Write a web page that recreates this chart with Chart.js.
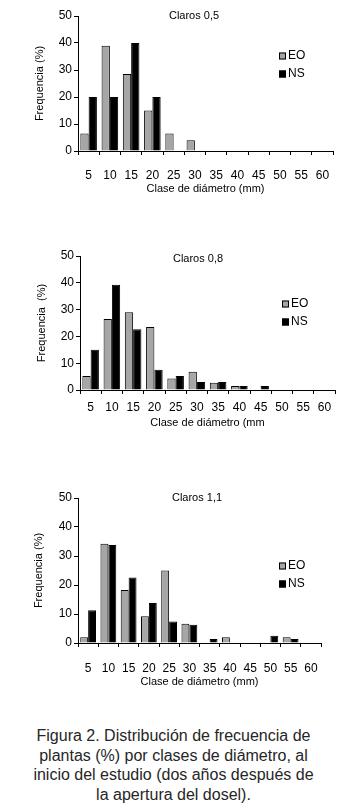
<!DOCTYPE html>
<html>
<head>
<meta charset="utf-8">
<script src="https://cdn.jsdelivr.net/npm/chart.js@4"></script>
<style>
    body { margin: 0; background: #fff; width: 347px; height: 811px; overflow: hidden; position: relative; }
    canvas { position: absolute; left: 0; }
    #legenda {
        position: absolute; left: 0; top: 726px; width: 347px;
        text-align: center; font: 16px "Liberation Sans", Arial, sans-serif;
        line-height: 19.5px; color: #262626; white-space: nowrap;
    }
</style>
</head>
<body>
<canvas id="grafico05" width="347" height="200" style="top:0px"></canvas>
<canvas id="grafico08" width="347" height="200" style="top:240px"></canvas>
<canvas id="grafico11" width="347" height="220" style="top:480px"></canvas>
<div id="legenda">Figura 2. Distribución de frecuencia de<br>plantas (%) por clases de diámetro, al<br>inicio del estudio (dos años después de<br>la apertura del dosel).</div>
<script>
// clases de diametro (mm)
const clases = ['5', '10', '15', '20', '25', '30', '35', '40', '45', '50', '55', '60'];
const series = ['EO', 'NS'];

// Claros 0,5
const eoClaros05 = [6.5, 39, 28.5, 15, 6.5, 4, 0, 0, 0, 0, 0, 0];
const nsClaros05 = [20, 20, 40, 20, 0, 0, 0, 0, 0, 0, 0, 0];

// Claros 0,8
const eoClaros08 = [5.2, 26.5, 29, 23.5, 4.3, 6.8, 2.7, 1.5, 0, 0, 0, 0];
const nsClaros08 = [15, 39.3, 22.7, 7.6, 5.2, 3, 3, 1.5, 1.5, 0, 0, 0];

// Claros 1,1
const eoClaros11 = [2, 34.2, 18.3, 9.2, 25, 6.6, 0, 2, 0, 0, 2, 0];
const nsClaros11 = [11.3, 33.8, 22.6, 13.8, 7.4, 6.3, 1.4, 0, 0, 2.5, 1.4, 0];

const yMax = 50;
const yPasso = 10;

const fonte = '"Liberation Sans", Arial, sans-serif';

// desenha o titulo do painel e a legenda dentro da area do grafico
const textosPainel = {
    id: 'textosPainel',
    afterDraw(chart, args, opts) {
        const ctx = chart.ctx;
        ctx.save();
        ctx.fillStyle = '#000';
        ctx.textBaseline = 'middle';
        ctx.font = '11px ' + fonte;
        ctx.textAlign = 'center';
        ctx.fillText(opts.titulo, opts.tituloX, opts.tituloY);

        ctx.font = '12px ' + fonte;
        ctx.textAlign = 'left';
        chart.data.datasets.forEach(function (ds, i) {
            const y = opts.legY + i * 18;
            ctx.fillStyle = ds.backgroundColor;
            ctx.fillRect(opts.legX, y - 3.5, 7, 7);
            ctx.strokeStyle = '#000';
            ctx.lineWidth = 1;
            ctx.strokeRect(opts.legX + 0.5, y - 3, 6, 6);
            ctx.fillStyle = '#000';
            ctx.fillText(ds.label, opts.legX + 9, y);
        });
        ctx.restore();
    }
};

function plotarGrafico(idCanvas, eo, ns, cfg) {

    const dados = {
        labels: clases,
        datasets: [{
            label: series[0],
            data: eo,
            backgroundColor: '#a6a6a6',
            borderColor: '#000',
            borderWidth: 1,
            categoryPercentage: 0.78,
            barPercentage: 1
        },
        {
            label: series[1],
            data: ns,
            backgroundColor: '#000',
            borderColor: '#000',
            borderWidth: 1,
            categoryPercentage: 0.78,
            barPercentage: 1
        }]
    };

    const config = {
        type: 'bar',
        data: dados,
        options: {
            responsive: false,
            animation: false,
            devicePixelRatio: 1,
            layout: {
                padding: { left: 0, right: cfg.padDir, top: cfg.padTopo, bottom: 0 }
            },
            scales: {
                x: {
                    afterFit: function (scale) { scale.height = cfg.altX; },
                    border: { color: '#000', width: 1 },
                    grid: { display: true, drawOnChartArea: false, drawTicks: true, tickLength: 4, color: '#000', offset: true },
                    ticks: { color: '#000', font: { family: fonte, size: 12 }, padding: cfg.padTicksX, maxRotation: 0, autoSkip: false },
                    title: {
                        display: true,
                        text: cfg.tituloX,
                        color: '#000',
                        font: { family: fonte, size: 11 },
                        padding: { top: 0, bottom: cfg.padTituloX }
                    }
                },
                y: {
                    min: 0,
                    max: yMax,
                    afterFit: function (scale) { scale.width = cfg.largY; },
                    border: { color: '#000', width: 1 },
                    grid: { display: true, drawOnChartArea: false, drawTicks: true, tickLength: 4, color: '#000' },
                    ticks: { stepSize: yPasso, color: '#000', font: { family: fonte, size: 12 }, padding: 2 },
                    title: {
                        display: true,
                        text: cfg.tituloY,
                        color: '#000',
                        font: { family: fonte, size: 11 },
                        padding: { top: cfg.padTituloY, bottom: 0 }
                    }
                }
            },
            plugins: {
                legend: { display: false },
                tooltip: { enabled: false },
                textosPainel: cfg.painel
            }
        },
        plugins: [textosPainel]
    };

    return new Chart(document.getElementById(idCanvas), config);
}

plotarGrafico('grafico05', eoClaros05, nsClaros05, {
    padDir: 14, padTopo: 16, altX: 49, largY: 78,
    padTicksX: 13, padTituloX: 4, padTituloY: 33,
    tituloX: 'Clase de diámetro (mm)', tituloY: 'Frequencia (%)',
    painel: { titulo: 'Claros 0,5', tituloX: 194, tituloY: 16, legX: 279, legY: 56 }
});

plotarGrafico('grafico08', eoClaros08, nsClaros08, {
    padDir: 12, padTopo: 16, altX: 50, largY: 80,
    padTicksX: 6, padTituloX: 10, padTituloY: 35,
    tituloX: 'Clase de diámetro (mm', tituloY: 'Frequencia  (%)',
    painel: { titulo: 'Claros 0,8', tituloX: 198, tituloY: 19, legX: 282, legY: 64 }
});

plotarGrafico('grafico11', eoClaros11, nsClaros11, {
    padDir: 26, padTopo: 18, altX: 57, largY: 78,
    padTicksX: 14, padTituloX: 11, padTituloY: 32,
    tituloX: 'Clase de diámetro (mm)', tituloY: 'Frequencia (%)',
    painel: { titulo: 'Claros 1,1', tituloX: 197, tituloY: 18, legX: 279, legY: 86 }
});
</script>
</body>
</html>
